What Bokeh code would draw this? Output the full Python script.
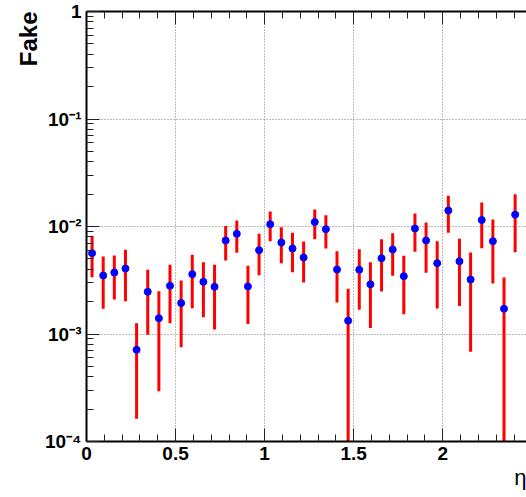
from bokeh.plotting import figure
from bokeh.models import FixedTicker, LinearAxis, Title, CustomJSTickFormatter
from bokeh.embed import file_html
from bokeh.resources import INLINE

# ---- data -------------------------------------------------------------
bin_width = 0.0625
fake_rate = [5.65e-3, 3.50e-3, 3.73e-3, 4.07e-3, 7.13e-4, 2.47e-3, 1.40e-3, 2.81e-3,
             1.94e-3, 3.60e-3, 3.06e-3, 2.75e-3, 7.41e-3, 8.55e-3, 2.77e-3, 6.02e-3,
             1.05e-2, 7.10e-3, 6.24e-3, 5.15e-3, 1.10e-2, 9.44e-3, 3.98e-3, 1.33e-3,
             3.96e-3, 2.90e-3, 5.07e-3, 6.11e-3, 3.45e-3, 9.58e-3, 7.41e-3, 4.56e-3,
             1.41e-2, 4.75e-3, 3.21e-3, 1.15e-2, 7.30e-3, 1.72e-3, 1.29e-2]
err_high = [8.07e-3, 5.26e-3, 5.37e-3, 6.07e-3, 1.26e-3, 3.96e-3, 2.50e-3, 4.40e-3,
            3.15e-3, 5.46e-3, 4.66e-3, 4.40e-3, 1.01e-2, 1.14e-2, 4.31e-3, 8.55e-3,
            1.38e-2, 9.85e-3, 8.74e-3, 7.25e-3, 1.44e-2, 1.27e-2, 5.89e-3, 2.63e-3,
            6.15e-3, 4.66e-3, 7.62e-3, 8.67e-3, 5.34e-3, 1.32e-2, 1.09e-2, 7.30e-3,
            1.93e-2, 7.69e-3, 5.73e-3, 1.67e-2, 1.16e-2, 3.36e-3, 1.99e-2]
err_low = [3.38e-3, 1.72e-3, 2.09e-3, 2.02e-3, 1.63e-4, 9.84e-4, 2.94e-4, 1.26e-3,
           7.54e-4, 1.74e-3, 1.43e-3, 1.10e-3, 4.83e-3, 5.69e-3, 1.24e-3, 3.52e-3,
           7.30e-3, 4.56e-3, 3.76e-3, 3.01e-3, 7.62e-3, 6.24e-3, 1.96e-3, 1e-6,
           1.68e-3, 1.14e-3, 2.48e-3, 3.48e-3, 1.53e-3, 5.82e-3, 3.71e-3, 1.73e-3,
           8.74e-3, 1.82e-3, 6.83e-4, 6.28e-3, 2.95e-3, 1e-6, 5.77e-3]
eta = [(i + 0.5) * bin_width for i in range(len(fake_rate))]

x_major = [0, 0.5, 1, 1.5, 2, 2.5]
x_minor = [round(0.1 * k, 2) for k in range(0, 26)]
y_major = [1e-4, 1e-3, 1e-2, 1e-1, 1]
y_minor = [m * 10.0 ** d for d in range(-4, 0) for m in range(2, 10)]
y_labels = {1e-4: "10\u207b\u2074", 1e-3: "10\u207b\u00b3", 1e-2: "10\u207b\u00b2",
            1e-1: "10\u207b\u00b9", 1: "1"}

FONT = "Liberation Sans"

p = figure(width=526, height=497, x_range=(0, 2.47), y_range=(1e-4, 1),
           y_axis_type="log", output_backend="svg", toolbar_location=None,
           min_border_left=86, min_border_right=0, min_border_top=11,
           min_border_bottom=56)
p.outline_line_color = None
p.background_fill_color = "white"
p.border_fill_color = "white"

# grid
p.xgrid.ticker = FixedTicker(ticks=x_major)
p.ygrid.ticker = FixedTicker(ticks=y_major)
for g in (p.xgrid, p.ygrid):
    g.grid_line_color = "#777777"
    g.grid_line_dash = "1 2"
    g.grid_line_width = 1

# error bars then points
p.segment(eta, err_low, eta, err_high, line_color="#ff0000", line_width=3)
p.scatter(eta, fake_rate, size=7, fill_color="#0000ff", line_color="#0000ff")

# axes styling (ROOT-style inward ticks)
def style_axis(ax):
    ax.axis_line_color = "black"
    ax.axis_line_width = 2
    ax.major_tick_in = 13
    ax.major_tick_out = 0
    ax.minor_tick_in = 7
    ax.minor_tick_out = 0
    ax.major_tick_line_color = "#222222"
    ax.minor_tick_line_color = "#222222"
    ax.major_tick_line_width = 1
    ax.minor_tick_line_width = 1
    ax.major_label_text_font = FONT
    ax.major_label_text_font_style = "bold"
    ax.major_label_text_font_size = "19px"
    ax.major_label_text_color = "black"

xa = p.xaxis[0]
xa.ticker = FixedTicker(ticks=x_major, minor_ticks=x_minor)
style_axis(xa)
xa.major_label_standoff = 5

ya = p.yaxis[0]
ya.ticker = FixedTicker(ticks=y_major, minor_ticks=y_minor)
ya.major_label_overrides = y_labels
style_axis(ya)
ya.major_label_standoff = 5

top = LinearAxis(ticker=FixedTicker(ticks=x_major, minor_ticks=x_minor))
style_axis(top)
top.major_label_text_font_size = "0px"
top.major_label_standoff = 0
top.formatter = CustomJSTickFormatter(code="return ''")
p.add_layout(top, "above")

# titles
p.add_layout(Title(text="Fake", align="right", text_font=FONT, text_font_style="bold",
                   text_font_size="24px", text_color="black", standoff=0, offset=0), "left")
p.add_layout(Title(text="\u03b7", align="right", text_font=FONT, text_font_style="normal",
                   text_font_size="22px", text_color="black", standoff=0), "below")

open("out.html", "w").write(file_html(p, INLINE))
